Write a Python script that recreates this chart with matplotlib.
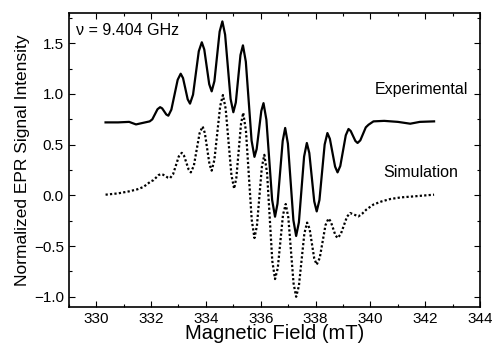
import numpy as np
import matplotlib.pyplot as plt
from matplotlib.ticker import MultipleLocator

plt.rcParams['font.family'] = ['Liberation Sans', 'DejaVu Sans']

# experimental spectrum (offset upward)
exp_field = [330.34, 330.8, 331.2, 331.45, 331.7, 331.95,
             332.045, 332.14, 332.235, 332.33, 332.405, 332.48, 332.555, 332.63,
             332.74, 332.855, 332.97, 333.08, 333.165, 333.25, 333.335, 333.42,
             333.53, 333.635, 333.74, 333.85, 333.94, 334.03, 334.12, 334.21,
             334.31, 334.405, 334.50, 334.60, 334.70, 334.80, 334.90, 335.00,
             335.09, 335.175, 335.26, 335.35, 335.455, 335.56, 335.665, 335.77,
             335.85, 335.935, 336.02, 336.10, 336.205, 336.31, 336.415, 336.52,
             336.61, 336.705, 336.80, 336.89, 336.99, 337.09, 337.19, 337.29,
             337.39, 337.485, 337.58, 337.68, 337.77, 337.86, 337.95, 338.04,
             338.14, 338.235, 338.33, 338.43, 338.52, 338.615, 338.71, 338.80,
             338.90, 339.00, 339.10, 339.20, 339.28, 339.365, 339.45, 339.53,
             339.63, 339.73, 339.83, 339.93, 340.11, 340.5, 341.0, 341.45,
             341.8, 342.32]
exp_signal = [0.72, 0.72, 0.725, 0.70, 0.715, 0.73,
              0.75, 0.80, 0.85, 0.87, 0.858, 0.828, 0.798, 0.786,
              0.846, 0.993, 1.14, 1.20, 1.157, 1.053, 0.948, 0.905,
              0.993, 1.208, 1.422, 1.51, 1.439, 1.268, 1.097, 1.026,
              1.127, 1.371, 1.615, 1.716, 1.585, 1.268, 0.951, 0.82,
              0.916, 1.15, 1.384, 1.48, 1.319, 0.93, 0.541, 0.38,
              0.457, 0.645, 0.833, 0.91, 0.746, 0.35, -0.046, -0.21,
              -0.082, 0.228, 0.537, 0.665, 0.51, 0.133, -0.245, -0.40,
              -0.266, 0.059, 0.383, 0.517, 0.418, 0.18, -0.059, -0.158,
              -0.045, 0.229, 0.502, 0.615, 0.558, 0.421, 0.284, 0.227,
              0.29, 0.441, 0.593, 0.655, 0.635, 0.586, 0.537, 0.517,
              0.543, 0.607, 0.671, 0.697, 0.73, 0.735, 0.725, 0.707,
              0.725, 0.73]

# simulated spectrum
sim_field = [330.34, 330.8, 331.2, 331.5, 331.72, 332.0,
             332.09, 332.18, 332.27, 332.36, 332.44, 332.525, 332.61, 332.69,
             332.80, 332.905, 333.01, 333.12, 333.20, 333.285, 333.37, 333.45,
             333.56, 333.665, 333.77, 333.88, 333.96, 334.045, 334.13, 334.21,
             334.31, 334.415, 334.52, 334.62, 334.72, 334.825, 334.93, 335.03,
             335.11, 335.195, 335.28, 335.36, 335.46, 335.565, 335.67, 335.77,
             335.86, 335.95, 336.04, 336.13, 336.23, 336.325, 336.42, 336.52,
             336.62, 336.715, 336.81, 336.91, 337.005, 337.10, 337.195, 337.29,
             337.39, 337.49, 337.59, 337.69, 337.78, 337.865, 337.95, 338.04,
             338.15, 338.255, 338.36, 338.47, 338.55, 338.635, 338.72, 338.80,
             338.915, 339.03, 339.145, 339.26, 339.41, 339.56, 339.70, 339.85,
             340.11, 340.4, 340.72, 341.1, 341.57, 342.0, 342.32]
sim_signal = [0.007, 0.02, 0.04, 0.06, 0.083, 0.14,
              0.15, 0.175, 0.20, 0.21, 0.204, 0.19, 0.176, 0.17,
              0.207, 0.295, 0.384, 0.42, 0.392, 0.324, 0.255, 0.227,
              0.293, 0.454, 0.614, 0.68, 0.616, 0.462, 0.308, 0.244,
              0.353, 0.617, 0.881, 0.99, 0.855, 0.528, 0.201, 0.066,
              0.175, 0.44, 0.706, 0.815, 0.635, 0.198, -0.24, -0.42,
              -0.30, -0.01, 0.28, 0.40, 0.221, -0.213, -0.646, -0.825,
              -0.717, -0.455, -0.193, -0.085, -0.219, -0.543, -0.866, -1.0,
              -0.893, -0.634, -0.375, -0.268, -0.329, -0.476, -0.622, -0.683,
              -0.617, -0.456, -0.294, -0.228, -0.256, -0.324, -0.392, -0.42,
              -0.384, -0.297, -0.21, -0.174, -0.19, -0.207, -0.18, -0.14,
              -0.09, -0.06, -0.036, -0.02, -0.01, 0.0, 0.007]

fig = plt.figure(figsize=(4.95, 3.48), dpi=100)
ax = fig.add_axes([0.139, 0.118, 0.831, 0.845])

ax.plot(exp_field, exp_signal, color='black', lw=1.6)
ax.plot(sim_field, sim_signal, color='black', lw=1.6, linestyle=(0, (1, 1)))

ax.set_xlim(329, 344)
ax.set_ylim(-1.1, 1.8)
ax.xaxis.set_major_locator(MultipleLocator(2))
ax.xaxis.set_minor_locator(MultipleLocator(1))
ax.yaxis.set_major_locator(MultipleLocator(0.5))
ax.yaxis.set_minor_locator(MultipleLocator(0.25))
ax.tick_params(which='both', direction='in', top=True, right=True, labelsize=11)
ax.tick_params(which='major', length=4, width=0.8)
ax.tick_params(which='minor', length=2.5, width=0.8)
for s in ax.spines.values():
    s.set_linewidth(1.2)

ax.set_xlabel('Magnetic Field (mT)', fontsize=14.5, labelpad=-1)
ax.set_ylabel('Normalized EPR Signal Intensity', fontsize=12.5, labelpad=3)

ax.text(329.28, 1.63, '\u03bd = 9.404 GHz', fontsize=11.5, va='center', ha='left')
ax.text(343.57, 1.04, 'Experimental', fontsize=11.5, va='center', ha='right')
ax.text(343.2, 0.23, 'Simulation', fontsize=11.5, va='center', ha='right')

fig.savefig('out.png', dpi=100)
